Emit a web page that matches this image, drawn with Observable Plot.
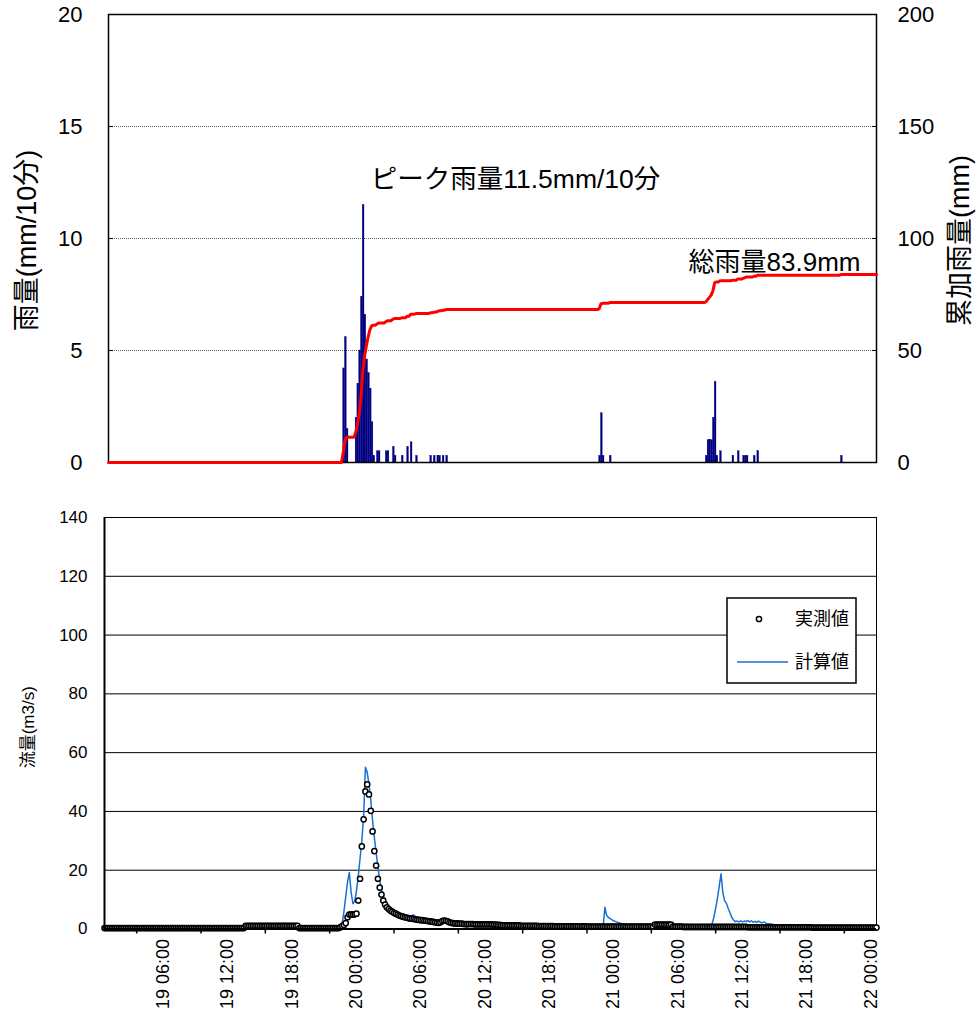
<!DOCTYPE html>
<html>
<head>
<meta charset="utf-8">
<script src="https://cdn.jsdelivr.net/npm/d3@7"></script>
<script src="https://cdn.jsdelivr.net/npm/@observablehq/plot@0.6"></script>
<style>
  html, body { margin: 0; padding: 0; background: white; }
  #wrap svg { display: block; }
</style>
</head>
<body>
<div id="wrap"></div>
<script>
// ---------- DATA ----------
// 10-minute rainfall (mm/10min), only non-zero intervals
const rainTimes = ["19 22:00","19 22:10","19 22:20",
  "19 23:10","19 23:20","19 23:30","19 23:40","19 23:50","20 00:00","20 00:10","20 00:20","20 00:30","20 00:40","20 00:50",
  "20 01:10","20 01:20","20 02:00","20 02:10","20 02:40","20 02:50","20 03:30","20 04:00","20 04:20","20 04:50",
  "20 06:10","20 06:30","20 06:50","20 07:00","20 07:20","20 07:40",
  "20 22:00","20 22:10","20 22:20","20 23:00",
  "21 08:00","21 08:10","21 08:20","21 08:30","21 08:40","21 08:50","21 09:00","21 09:20","21 10:30","21 11:00",
  "21 11:30","21 11:40","21 11:50","21 12:30","21 12:50","21 20:40"];
const rainValues = [4.2,5.6,1.5,
  2.0,3.5,5.0,7.4,11.5,6.6,4.6,4.0,3.3,1.8,0.3,
  0.5,0.5,0.5,0.5,0.7,0.3,0.3,0.7,0.9,0.3,
  0.3,0.3,0.3,0.3,0.3,0.3,
  0.3,2.2,0.3,0.3,
  0.3,1.0,1.0,1.0,2.0,3.6,0.3,0.5,0.3,0.5,
  0.3,0.3,0.3,0.3,0.5,0.3];

// Flow (m3/s) every 10 minutes from 19 00:00 to 22 00:00 (one row = 6 hours)
const obsFlow = [
  0.3,0.3,0.3,0.3,0.3,0.3,0.3,0.3,0.3,0.3,0.3,0.3, 0.3,0.3,0.3,0.3,0.3,0.3,0.3,0.3,0.3,0.3,0.3,0.3, 0.3,0.3,0.3,0.3,0.3,0.3,0.3,0.3,0.3,0.3,0.3,0.3,
  0.3,0.3,0.3,0.3,0.3,0.3,0.3,0.3,0.3,0.3,0.3,0.3, 0.3,0.3,0.3,0.3,0.3,0.3,0.3,0.3,0.3,0.3,0.3,0.3, 0.3,0.3,0.3,0.3,0.3,0.3,0.3,0.3,0.3,0.3,0.3,0.3,
  0.3,0.3,0.3,0.3,0.3,0.3,0.3,1.1,1.1,1.1,1.1,1.1, 1.1,1.1,1.1,1.1,1.1,1.1,1.1,1.1,1.1,1.1,1.1,1.1, 1.1,1.1,1.1,1.1,1.1,1.1,1.1,1.1,1.1,1.1,1.1,1.1,
  1.1,0.3,0.3,0.3,0.3,0.3,0.3,0.3,0.3,0.3,0.3,0.3, 0.3,0.3,0.3,0.3,0.3,0.3,0.3,0.3,0.3,0.3,0.3,0.3, 0.6,1.0,1.4,2.0,4.0,4.9,5.0,4.9,5.0,5.2,9.7,17.1,
  28.1,37.3,46.8,49.2,45.8,40.2,33.2,26.5,21.6,17.1,14.1,11.7, 9.7,8.3,7.4,6.8,6.3,5.9,5.5,5.2,4.9,4.6,4.4,4.2, 4.0,3.9,3.7,3.6,3.5,3.4,3.3,3.2,3.1,3.0,3.0,2.9,
  2.8,2.7,2.6,2.5,2.4,2.3,2.2,2.1,2.3,2.7,2.9,2.8, 2.6,2.3,2.1,2.0,1.9,1.9,1.8,1.8,1.8,1.7,1.7,1.7, 1.7,1.7,1.7,1.6,1.6,1.6,1.6,1.6,1.6,1.6,1.6,1.6,
  1.6,1.5,1.5,1.5,1.4,1.4,1.3,1.2,1.2,1.2,1.2,1.2, 1.2,1.2,1.2,1.2,1.2,1.1,1.1,1.1,1.1,1.1,1.1,1.1, 1.1,1.1,1.1,1.0,1.0,1.0,1.0,1.0,1.0,1.0,1.0,1.0,
  0.9,0.9,0.9,0.9,0.9,0.9,0.9,0.9,0.9,0.9,0.9,0.9, 0.9,0.9,0.9,0.9,0.9,0.9,0.8,0.8,0.8,0.8,0.8,0.8, 0.8,0.8,0.8,0.8,0.8,0.8,0.8,0.8,0.8,0.8,0.8,0.8,
  0.8,0.8,0.8,0.8,0.8,0.8,0.8,0.8,0.8,0.8,0.8,0.8, 0.8,0.8,0.8,0.8,0.8,0.8,0.8,0.8,1.5,1.5,1.5,1.5, 1.5,1.5,1.5,1.5,1.5,1.5,0.8,0.8,0.8,0.8,0.8,0.8,
  0.7,0.7,0.7,0.7,0.7,0.7,0.7,0.7,0.7,0.7,0.7,0.7, 0.7,0.7,0.7,0.7,0.7,0.7,0.7,0.7,0.7,0.7,0.7,0.7, 0.7,0.7,0.7,0.7,0.7,0.7,0.7,0.7,0.7,0.7,0.7,0.7,
  0.6,0.6,0.6,0.6,0.6,0.6,0.6,0.6,0.6,0.6,0.6,0.6, 0.6,0.6,0.6,0.6,0.6,0.6,0.6,0.6,0.6,0.6,0.6,0.6, 0.6,0.6,0.6,0.6,0.6,0.6,0.6,0.6,0.6,0.6,0.6,0.6,
  0.5,0.5,0.5,0.5,0.5,0.5,0.5,0.5,0.5,0.5,0.5,0.5, 0.5,0.5,0.5,0.5,0.5,0.5,0.5,0.5,0.5,0.5,0.5,0.5, 0.5,0.5,0.5,0.5,0.5,0.5,0.5,0.5,0.5,0.5,0.5,0.5,
  0.5];
const calcFlow = [
  0.2,0.2,0.2,0.2,0.2,0.2,0.2,0.2,0.2,0.2,0.2,0.2, 0.2,0.2,0.2,0.2,0.2,0.2,0.2,0.2,0.2,0.2,0.2,0.2, 0.2,0.2,0.2,0.2,0.2,0.2,0.2,0.2,0.2,0.2,0.2,0.2,
  0.2,0.2,0.2,0.2,0.2,0.2,0.2,0.2,0.2,0.2,0.2,0.2, 0.2,0.2,0.2,0.2,0.2,0.2,0.2,0.2,0.2,0.2,0.2,0.2, 0.2,0.2,0.2,0.2,0.2,0.2,0.2,0.2,0.2,0.2,0.2,0.2,
  0.2,0.2,0.2,0.2,0.2,0.2,0.2,0.2,0,0,0,0, 0,0,0,0,0,0,0,0,0,0,0,0, 0,0,0,0,0,0,0,0,0,0,0,0,
  0,0.2,0.2,0.2,0.2,0.2,0.2,0.2,0.2,0.2,0.2,0.2, 0.2,0.2,0.2,0.2,0.2,0.2,0.2,0.2,0.2,0.2,0.2,0.3, 0.5,1.8,6.0,11.0,16.0,19.2,12.5,8.6,9.5,13.0,18.0,24.0,
  30.1,38.0,55.0,53.3,49.3,44.0,37.0,31.1,26.0,21.0,16.5,13.5, 11.3,9.7,8.5,7.5,6.7,6.1,5.6,5.2,5.0,4.8,4.6,4.5, 4.3,4.2,4.1,4.0,4.6,4.8,4.2,3.9,3.8,3.7,3.7,3.6,
  3.5,3.4,3.3,3.3,3.2,3.1,3.1,3.0,3.0,3.1,3.2,3.0, 2.8,2.6,2.4,2.2,2.0,1.8,1.6,1.4,1.2,1.0,0.8,0.4, 0,0,0,0,0,0,0,0,0,0,0,0,
  0,0,0,0,0,0,0,0.5,0.9,0.9,0.9,0.9, 0.9,0.9,0.9,0.9,0.9,0.9,0.9,0.9,0.9,0.9,0.9,0.9, 0.9,0.9,0.9,0.9,0.9,0.9,0.9,0.9,0.9,0.9,0.9,0.9,
  0.7,0.7,0.7,0.7,0.7,0.7,0.7,0.7,0.7,0.7,0.7,0.7, 0.7,0.7,0,0,0,0,0,0,0,0,0,0, 0,0,0,0.5,7.4,4.6,3.9,3.5,3.1,2.8,2.5,2.3,
  2.1,1.9,1.7,1.5,1.2,1.0,0.8,0.6,0.5,0.4,0.4,0.4, 0.4,0.4,0.4,0.4,0.4,0.4,0.4,0.4,0.4,0.4,0.4,0.4, 0.4,0.4,0.4,0.4,0.4,0.4,0.4,0.4,0.4,0.4,0.4,0.4,
  0.4,0.4,0.4,0.4,0.4,0.4,0.4,0.4,0.4,0.4,0.4,0.4, 0.4,0.4,0.4,0.4,1.8,4.0,7.0,10.5,14.5,18.8,12.5,9.6, 8.8,7.0,5.5,4.0,3.0,2.5,2.7,2.4,2.8,2.4,2.7,2.5,
  2.9,2.4,2.8,2.3,2.6,2.2,2.7,2.3,2.1,2.4,2.0,1.9, 1.8,1.7,1.6,1.3,1.0,0.8,0.6,0.5,0.4,0.4,0.4,0.4, 0.4,0.4,0.4,0.4,0.4,0.4,0.4,0.4,0.4,0.4,0.4,0.4,
  0.4,0.4,0.4,0.4,0.4,0.4,0.4,0.4,0.4,0.4,0.4,0.4, 0.4,0.4,0.4,0.4,0.4,0.4,0.4,0.4,0.4,0.4,0.4,0.4, 0.4,0.4,0.4,0.4,0.4,0.4,0.4,0.4,0.4,0.4,0.4,0.4,
  0.4];

const startTime = "19 00:00", endTime = "22 00:00";
const labelTimes = ["19 06:00","19 12:00","19 18:00","20 00:00","20 06:00","20 12:00",
                    "20 18:00","21 00:00","21 06:00","21 12:00","21 18:00","22 00:00"];
const tickTimes  = ["19 03:00","19 09:00","19 15:00","19 21:00","20 03:00","20 09:00",
                    "20 15:00","20 21:00","21 03:00","21 09:00","21 15:00","21 21:00"];
const rainTicks = [0, 5, 10, 15, 20];
const flowTicks = [0, 20, 40, 60, 80, 100, 120, 140];

// ---------- BUILD ----------
const parse = d3.utcParse("%d %H:%M");
const fmt = d3.utcFormat("%d %H:%M");
const t0 = parse(startTime), t1 = parse(endTime);
const step = 10 * 60 * 1000;

const rain = rainTimes.map((s, i) => ({t: parse(s), t2: new Date(+parse(s) + step), v: rainValues[i]}));
const nSlots = obsFlow.length;
const slotRain = new Float64Array(nSlots);
rain.forEach(d => { slotRain[Math.round((d.t - t0) / step)] += d.v; });
const cum = d3.cumsum(slotRain);
const cumData = Array.from(cum, (c, i) => ({t: new Date(+t0 + i * step), c}));
const total = d3.sum(rainValues);
const peak = rain[d3.maxIndex(rain, d => d.v)];

const flow = obsFlow.map((o, i) => ({t: new Date(+t0 + i * step), obs: o, calc: calcFlow[i]}));

const FONT = "'Liberation Sans', Arial, 'Noto Sans CJK JP', sans-serif";

const rainPlot = Plot.plot({
  width: 980, height: 480,
  marginTop: 14, marginBottom: 18, marginLeft: 108, marginRight: 104,
  style: {fontFamily: FONT, fontSize: "22px", background: "white", color: "black"},
  x: {type: "utc", domain: [t0, t1], axis: null},
  y: {domain: [0, 20]},
  marks: [
    Plot.gridY([5, 10, 15], {stroke: "#666", strokeOpacity: 1, strokeWidth: 1, strokeDasharray: "1,1"}),
    Plot.rectY(rain, {x1: "t", x2: "t2", y: "v", fill: "#000080", stroke: "#000080", strokeWidth: 0.3}),
    Plot.frame({stroke: "black", strokeWidth: 1.5}),
    Plot.axisY(rainTicks.slice(1, 4), {anchor: "left", tickSize: -5, tickFormat: () => "", label: null}),
    Plot.axisY(rainTicks.slice(1, 4), {anchor: "right", tickSize: -5, tickFormat: () => "", label: null}),
    Plot.line(cumData, {x: "t", y: d => d.c / 10, stroke: "#ff0000", strokeWidth: 3}),
    Plot.axisY(rainTicks, {anchor: "left", tickSize: 0, tickPadding: 26, label: null, fontSize: 22}),
    Plot.axisY(rainTicks, {anchor: "right", tickSize: 0, tickPadding: 21, label: null, fontSize: 22, tickFormat: d => d * 10}),
    Plot.text([peak], {x: "t", y: "v", text: d => `ピーク雨量${d.v}mm/10分`, textAnchor: "start", dx: 8, dy: -25, fontSize: 26.5}),
    Plot.text([cumData[cumData.length - 1]], {x: "t", y: d => d.c / 10, text: () => `総雨量${total.toFixed(1)}mm`, textAnchor: "end", dx: -16, dy: -12, fontSize: 26}),
    Plot.text(["雨量(mm/10分)"], {frameAnchor: "left", text: d => d, rotate: -90, textAnchor: "middle", dx: -81, dy: 2, fontSize: 27}),
    Plot.text(["累加雨量(mm)"], {frameAnchor: "right", text: d => d, rotate: -90, textAnchor: "middle", dx: 84, dy: 2, fontSize: 27})
  ]
});

const flowPlot = Plot.plot({
  width: 980, height: 539,
  marginTop: 37, marginBottom: 90.5, marginLeft: 104, marginRight: 104,
  style: {fontFamily: FONT, fontSize: "17px", background: "white", color: "black"},
  x: {type: "utc", domain: [t0, t1]},
  y: {domain: [0, 140]},
  marks: [
    Plot.gridY(flowTicks.slice(1), {stroke: "black", strokeOpacity: 1, strokeWidth: 1}),
    Plot.ruleX([t1], {stroke: "black", strokeWidth: 1}),
    Plot.line(flow, {x: "t", y: "calc", stroke: "#1a6fd6", strokeWidth: 1.5}),
    Plot.dot(flow, {x: "t", y: "obs", r: 2.6, stroke: "black", strokeWidth: 1.5, fill: "white"}),
    Plot.ruleY([0], {stroke: "black", strokeWidth: 2}),
    Plot.ruleX([t0], {stroke: "black", strokeWidth: 2}),
    Plot.axisY(flowTicks, {anchor: "left", tickSize: 0, tickPadding: 17, label: null, fontSize: 17}),
    Plot.axisX(tickTimes.map(parse), {anchor: "bottom", tickSize: 5, strokeWidth: 1.5, tickFormat: () => "", label: null}),
    Plot.text(labelTimes.map(parse), {x: d => d, text: d => fmt(d), frameAnchor: "bottom", rotate: -90,
      textAnchor: "end", lineAnchor: "bottom", dy: 10, fontSize: 18}),
    Plot.text(["流量(m3/s)"], {frameAnchor: "left", text: d => d, rotate: -90, textAnchor: "middle", dx: -76, dy: 4, fontSize: 17})
  ]
});

// legend drawn inside the bottom plot
const svgB = d3.select(flowPlot);
const lg = svgB.append("g").attr("font-family", FONT).attr("font-size", 18).attr("text-anchor", "start");
lg.append("rect").attr("x", 727).attr("y", 118).attr("width", 129).attr("height", 85)
  .attr("fill", "white").attr("stroke", "black").attr("stroke-width", 1.5);
lg.append("circle").attr("cx", 759).attr("cy", 139).attr("r", 2.6)
  .attr("fill", "white").attr("stroke", "black").attr("stroke-width", 1.5);
lg.append("text").attr("x", 795).attr("y", 139).attr("dy", "0.35em").text("実測値");
lg.append("line").attr("x1", 737).attr("x2", 788).attr("y1", 182).attr("y2", 182)
  .attr("stroke", "#1a6fd6").attr("stroke-width", 1.5);
lg.append("text").attr("x", 795).attr("y", 182).attr("dy", "0.35em").text("計算値");

document.getElementById("wrap").append(rainPlot, flowPlot);
</script>
</body>
</html>
